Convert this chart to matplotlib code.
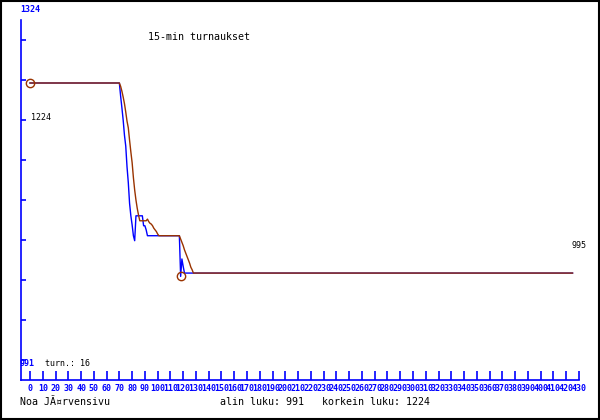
import matplotlib
matplotlib.use("Agg")
import matplotlib.pyplot as plt
import numpy as np

# rating per game (blue) and smoothed rating (brown), vertices of the polylines
blue_games = [0, 70, 71, 72, 73, 74, 75, 76, 77, 78, 79, 80, 81, 82, 83, 88, 89, 90, 91, 92,
              117, 118, 119, 120, 121, 425]
blue_rating = [1224, 1224, 1208, 1194, 1179, 1161, 1148, 1123, 1104, 1079, 1064, 1053, 1040, 1034,
               1064, 1064, 1052, 1052, 1047, 1040, 1040, 991, 1012, 1003, 995, 995]

brown_games = [0, 70, 71, 72, 73, 74, 75, 76, 77, 78, 79, 80, 81, 82, 83, 84, 85, 86, 91, 92,
               93, 94, 95, 96, 97, 98, 99, 100, 101, 117, 118, 119, 120, 121, 122, 123, 124,
               125, 126, 127, 128, 425]
brown_rating = [1224, 1224, 1220, 1214, 1207, 1199, 1189, 1178, 1170, 1155, 1141, 1128, 1110, 1095,
                1083, 1073, 1065, 1058, 1058, 1060, 1057, 1055, 1054, 1052, 1049, 1047, 1045, 1042,
                1040, 1040, 1036, 1032, 1028, 1023, 1019, 1015, 1011, 1007, 1002, 999, 995, 995]

marked_games = [0, 118]
marked_rating = [1224, 991]

xticks = list(range(0, 431, 10))

blue = "#0000ff"
brown = "#993300"
mono = "DejaVu Sans Mono"

fig = plt.figure(figsize=(6, 4.2), dpi=100)
fig.patch.set_facecolor("white")

# axes box in pixels: x 21..579, y 20..380
ax = fig.add_axes([21 / 600, 40 / 420, 558 / 600, 360 / 420])
ax.set_xlim(-7.05, 430.05)
ax.set_ylim(1324 - 380 / 0.83, 1324 - 20 / 0.83)

ax.plot(blue_games, blue_rating, color=blue, lw=1.0)
ax.plot(brown_games, brown_rating, color=brown, lw=1.0)
ax.plot(marked_games, marked_rating, "o", mfc="none", mec=brown, ms=6, mew=1.0)

for s in ["top", "right"]:
    ax.spines[s].set_visible(False)
for s in ["left", "bottom"]:
    ax.spines[s].set_color(blue)
    ax.spines[s].set_linewidth(1.2)

ax.set_xticks(xticks)
ax.set_xticklabels([str(t) for t in xticks])
ax.tick_params(axis="x", direction="in", length=6.5, width=1.2, color=blue, pad=3,
               labelsize=6, labelcolor=blue)
for lab in ax.get_xticklabels():
    lab.set_family(mono)
    lab.set_fontweight("bold")

ax.set_yticks(1324 - np.arange(40, 361, 40) / 0.83)
ax.tick_params(axis="y", direction="in", length=3.6, width=1.2, color=blue, labelleft=False)


def px(x, y):
    return x / 600, 1 - y / 420


fig.text(*px(20, 9), "1324", color=blue, fontsize=6, family=mono, fontweight="bold", va="center")
fig.text(*px(20, 364), "991", color=blue, fontsize=6, family=mono, fontweight="bold", va="center")
fig.text(*px(45, 364), "turn.: 16", color="black", fontsize=6, family=mono, va="center")
fig.text(*px(31, 117), "1224", color="black", fontsize=6, family=mono, va="center")
fig.text(*px(571, 246), "995", color="black", fontsize=6, family=mono, va="center")
fig.text(*px(148, 37), "15-min turnaukset", color="black", fontsize=7.2, family=mono, va="center")
fig.text(*px(20, 402), "Noa JÃ¤rvensivu", color="black", fontsize=7.2, family=mono, va="center")
fig.text(*px(220, 402), "alin luku: 991   korkein luku: 1224", color="black", fontsize=7.2,
         family=mono, va="center")

fig.add_artist(plt.Rectangle((0.001, 0.002), 0.997, 0.996, transform=fig.transFigure,
                             fill=False, edgecolor="black", lw=1.5))

fig.savefig("out.png", dpi=100)
